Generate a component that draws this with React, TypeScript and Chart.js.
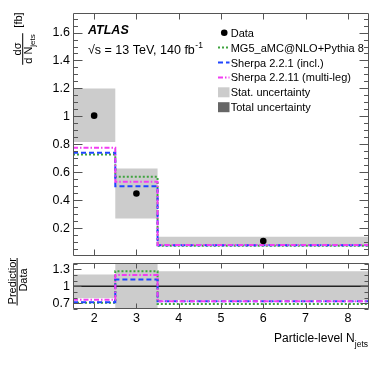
import { useEffect, useRef } from 'react';
import { Chart, registerables } from 'chart.js';
Chart.register(...registerables);

const FONT = '"Liberation Sans", Arial, Helvetica, sans-serif';

// ---- data ----
const binEdges = [1.5, 2.5, 3.5, 8.5];
const dataX = [2, 3, 6];
const dataY = [1.005, 0.448, 0.107];
const statLow = [0.816, 0.269, 0.078];
const statHigh = [1.2, 0.626, 0.138];
const mg5 = [0.726, 0.567, 0.073];
const sherpa221 = [0.74, 0.5, 0.077];
const sherpa2211 = [0.776, 0.531, 0.079];
const ratioStatLow = [0.79, 0.55, 0.76];
const ratioStatHigh = [1.206, 1.45, 1.265];
const ratioMg5 = [0.71, 1.265, 0.69];
const ratioSherpa221 = [0.72, 1.118, 0.735];
const ratioSherpa2211 = [0.765, 1.2, 0.738];
const ratioOne = [1, 1, 1];
const xTicks = [2, 3, 4, 5, 6, 7, 8];
const yTicksTop = [0.2, 0.4, 0.6, 0.8, 1, 1.2, 1.4, 1.6];
const yTicksRatio = [0.7, 1, 1.3];
const legendLabels = [
  'Data',
  'MG5_aMC@NLO+Pythia 8',
  'Sherpa 2.2.1 (incl.)',
  'Sherpa 2.2.11 (multi-leg)',
  'Stat. uncertainty',
  'Total uncertainty',
];

// ---- styles ----
const GRAY = 'rgb(204,204,204)';
const DARK = 'rgb(102,102,102)';
const GREEN = '#3fa33f';
const BLUE = '#1f45ff';
const MAGENTA = '#f23cf2';
const AXIS = '#555';
const DASH_G = [2, 2];
const DASH_B = [5, 3];
const DASH_M = [5, 2, 1.5, 2];

const step = (v: number[]) => binEdges.map((x, i) => ({ x, y: v[Math.min(i, v.length - 1)] }));

const lineDs = (label: string, vals: number[], color: string, dash: number[], order: number) => ({
  label,
  data: step(vals),
  borderColor: color,
  borderDash: dash,
  borderWidth: 2,
  stepped: 'before',
  pointRadius: 0,
  fill: false,
  order,
});

const bandDs = (low: number[], high: number[]) => [
  { label: 'lo', data: step(low), borderColor: 'rgba(0,0,0,0)', borderWidth: 0, pointRadius: 0, stepped: 'before', fill: false, order: 10 },
  { label: 'hi', data: step(high), borderColor: 'rgba(0,0,0,0)', borderWidth: 0, pointRadius: 0, stepped: 'before', fill: '-1', backgroundColor: GRAY, order: 10 },
];

const fmt = (v: number) => `${+(+v).toFixed(2)}`;

function drawFrameTicks(chart: any, yMajor: number[], yMinorStep: number, yMinorFrom: number, yMinorTo: number, yMaj: number, yMin: number, xLen: number) {
  const { ctx, chartArea: a, scales } = chart;
  const ys = scales.y, xs = scales.x;
  ctx.save();
  ctx.strokeStyle = AXIS;
  ctx.lineWidth = 1;
  ctx.setLineDash([]);
  ctx.beginPath();
  const L = Math.round(a.left) + 0.5, R = Math.round(a.right) - 0.5, T = Math.round(a.top) + 0.5, B = Math.round(a.bottom) - 0.5;
  ctx.rect(L, T, R - L, B - T);
  const hTick = (v: number, len: number) => {
    const p = Math.round(ys.getPixelForValue(v)) + 0.5;
    ctx.moveTo(L, p); ctx.lineTo(L + len, p);
    ctx.moveTo(R, p); ctx.lineTo(R - len, p);
  };
  yMajor.forEach((v) => hTick(v, yMaj));
  for (let v = yMinorFrom; v <= yMinorTo + 1e-9; v += yMinorStep) {
    if (yMajor.some((m) => Math.abs(m - v) < 1e-6)) continue;
    hTick(v, yMin);
  }
  xTicks.forEach((v) => {
    const p = Math.round(xs.getPixelForValue(v)) + 0.5;
    ctx.moveTo(p, B); ctx.lineTo(p, B - xLen);
    ctx.moveTo(p, T); ctx.lineTo(p, T + xLen);
  });
  ctx.stroke();
  ctx.restore();
}

function rotText(ctx: CanvasRenderingContext2D, text: string, x: number, y: number, font: string, align: CanvasTextAlign = 'center') {
  ctx.save();
  ctx.translate(x, y);
  ctx.rotate(-Math.PI / 2);
  ctx.font = font;
  ctx.textAlign = align;
  ctx.textBaseline = 'alphabetic';
  ctx.fillText(text, 0, 0);
  ctx.restore();
}

const topPlugin = {
  id: 'topDecor',
  afterDraw(chart: any) {
    const ctx: CanvasRenderingContext2D = chart.ctx;
    drawFrameTicks(chart, yTicksTop, 0.05, 0.05, 1.7, 9, 4.5, 6);
    ctx.save();
    ctx.fillStyle = '#000';
    ctx.textAlign = 'left';
    ctx.textBaseline = 'alphabetic';
    // ATLAS label
    ctx.font = `italic bold 12.5px ${FONT}`;
    ctx.fillText('ATLAS', 88, 33.5);
    ctx.font = `12.5px ${FONT}`;
    const s1 = '\u221As = 13 TeV, 140 fb';
    ctx.fillText(s1, 88, 53.5);
    const w1 = ctx.measureText(s1).width;
    ctx.font = `8.5px ${FONT}`;
    ctx.fillText('-1', 88 + w1 + 0.5, 47.5);
    // legend
    const lx0 = 218, lx1 = 229.5, tx = 230.7;
    legendLabels.forEach((lab, i) => {
      const cy = 32.7 + i * 14.9;
      ctx.save();
      if (i === 0) {
        ctx.beginPath();
        ctx.arc((lx0 + lx1) / 2 + 0.5, cy, 3.3, 0, Math.PI * 2);
        ctx.fillStyle = '#000';
        ctx.fill();
      } else if (i <= 3) {
        const col = [GREEN, BLUE, MAGENTA][i - 1];
        const dash = [DASH_G, DASH_B, DASH_M][i - 1];
        ctx.strokeStyle = col;
        ctx.lineWidth = 2;
        ctx.setLineDash(dash);
        ctx.beginPath();
        ctx.moveTo(lx0, cy);
        ctx.lineTo(lx1, cy);
        ctx.stroke();
      } else {
        ctx.fillStyle = i === 4 ? GRAY : DARK;
        ctx.fillRect(lx0, cy - 5, lx1 - lx0, 10);
      }
      ctx.restore();
      ctx.font = `11px ${FONT}`;
      ctx.fillStyle = '#000';
      ctx.fillText(lab, tx, cy + 4);
    });
    // y title
    const f11 = `11px ${FONT}`;
    rotText(ctx, '[fb]', 21.5, 20, f11);
    rotText(ctx, 'd\u03C3', 21, 49, f11);
    ctx.font = f11;
    const dN = 'd N';
    const wdN = ctx.measureText(dN).width;
    ctx.font = `8px ${FONT}`;
    const wj = ctx.measureText('jets').width;
    const total = wdN + wj;
    const y0 = 49 + total / 2;
    rotText(ctx, dN, 32, y0, f11, 'left');
    rotText(ctx, 'jets', 34.5, y0 - wdN, `8px ${FONT}`, 'left');
    ctx.fillStyle = '#000';
    ctx.fillRect(22.2, 49 - total / 2 - 1, 1, total + 2);
    ctx.restore();
  },
};

const botPlugin = {
  id: 'botDecor',
  afterDraw(chart: any) {
    const ctx: CanvasRenderingContext2D = chart.ctx;
    drawFrameTicks(chart, yTicksRatio, 0.1, 0.6, 1.4, 8, 4, 5);
    ctx.save();
    ctx.fillStyle = '#000';
    // y title (fraction)
    const f = `11px ${FONT}`;
    const cy = 280 - 258;
    ctx.font = f;
    const wp = ctx.measureText('Prediction').width;
    rotText(ctx, 'Prediction', 15.5, cy, f);
    rotText(ctx, 'Data', 27, cy, f);
    ctx.fillRect(16.6, cy - wp / 2 - 1, 1, wp + 2);
    // x title
    ctx.textBaseline = 'alphabetic';
    ctx.font = `8.5px ${FONT}`;
    const wj = ctx.measureText('jets').width;
    ctx.textAlign = 'right';
    ctx.fillText('jets', 368, 346.5 - 258);
    ctx.font = `12px ${FONT}`;
    ctx.fillText('Particle-level N', 368 - wj, 342 - 258);
    ctx.restore();
  },
};

export default function App() {
  const topRef = useRef<HTMLCanvasElement>(null);
  const botRef = useRef<HTMLCanvasElement>(null);

  useEffect(() => {
    const tickFont = { family: FONT, size: 12.5 };
    const top = new Chart(topRef.current as HTMLCanvasElement, {
      type: 'line',
      data: {
        datasets: [
          ...bandDs(statLow, statHigh),
          lineDs('MG5_aMC@NLO+Pythia 8', mg5, GREEN, DASH_G, 4),
          lineDs('Sherpa 2.2.1 (incl.)', sherpa221, BLUE, DASH_B, 3),
          lineDs('Sherpa 2.2.11 (multi-leg)', sherpa2211, MAGENTA, DASH_M, 2),
          {
            label: 'Data',
            data: dataX.map((x, i) => ({ x, y: dataY[i] })),
            showLine: false,
            pointRadius: 3.3,
            pointBackgroundColor: '#000',
            pointBorderWidth: 0,
            borderColor: '#000',
            order: 1,
          },
        ] as any,
      },
      options: {
        animation: false,
        responsive: false,
        devicePixelRatio: 1,
        events: [],
        layout: { padding: { top: 13, right: 13, bottom: 4, left: 0 } },
        plugins: { legend: { display: false }, tooltip: { enabled: false } },
        scales: {
          x: { type: 'linear', min: 1.5, max: 8.5, display: false },
          y: {
            type: 'linear',
            min: 0,
            max: 1.74,
            afterBuildTicks: (s: any) => { s.ticks = yTicksTop.map((v) => ({ value: v })); },
            afterFit: (s: any) => { s.width = 73; s.paddingTop = 0; s.paddingBottom = 0; },
            ticks: { font: tickFont, color: '#000', padding: 3, callback: (v: any) => fmt(v) },
            grid: { display: false, drawTicks: false },
            border: { display: false },
          },
        },
      } as any,
      plugins: [topPlugin],
    });

    const bot = new Chart(botRef.current as HTMLCanvasElement, {
      type: 'line',
      data: {
        datasets: [
          ...bandDs(ratioStatLow, ratioStatHigh),
          { label: 'one', data: step(ratioOne), borderColor: '#222', borderWidth: 1.5, pointRadius: 0, fill: false, order: 5 },
          lineDs('MG5_aMC@NLO+Pythia 8', ratioMg5, GREEN, DASH_G, 4),
          lineDs('Sherpa 2.2.1 (incl.)', ratioSherpa221, BLUE, DASH_B, 3),
          lineDs('Sherpa 2.2.11 (multi-leg)', ratioSherpa2211, MAGENTA, DASH_M, 2),
        ] as any,
      },
      options: {
        animation: false,
        responsive: false,
        devicePixelRatio: 1,
        events: [],
        layout: { padding: { top: 5, right: 13, bottom: 0, left: 0 } },
        plugins: { legend: { display: false }, tooltip: { enabled: false } },
        datasets: { line: { clip: 0 } },
        scales: {
          x: {
            type: 'linear',
            min: 1.5,
            max: 8.5,
            afterBuildTicks: (s: any) => { s.ticks = xTicks.map((v) => ({ value: v })); },
            afterFit: (s: any) => { s.height = 58; s.paddingLeft = 0; s.paddingRight = 0; },
            ticks: { font: tickFont, color: '#000', padding: 2, maxRotation: 0, autoSkip: false, callback: (v: any) => fmt(v) },
            grid: { display: false, drawTicks: false },
            border: { display: false },
          },
          y: {
            type: 'linear',
            min: 0.6,
            max: 1.41,
            afterBuildTicks: (s: any) => { s.ticks = yTicksRatio.map((v) => ({ value: v })); },
            afterFit: (s: any) => { s.width = 73; s.paddingTop = 0; s.paddingBottom = 0; },
            ticks: { font: tickFont, color: '#000', padding: 3, callback: (v: any) => fmt(v) },
            grid: { display: false, drawTicks: false },
            border: { display: false },
          },
        },
      } as any,
      plugins: [botPlugin],
    });

    return () => {
      top.destroy();
      bot.destroy();
    };
  }, []);

  return (
    <div style={{ position: 'fixed', left: 0, top: 0, width: 382, height: 367, background: '#fff' }}>
      <canvas ref={topRef} width={382} height={260} style={{ position: 'absolute', left: 0, top: 0, width: 382, height: 260 }} />
      <canvas ref={botRef} width={382} height={109} style={{ position: 'absolute', left: 0, top: 258, width: 382, height: 109 }} />
    </div>
  );
}
